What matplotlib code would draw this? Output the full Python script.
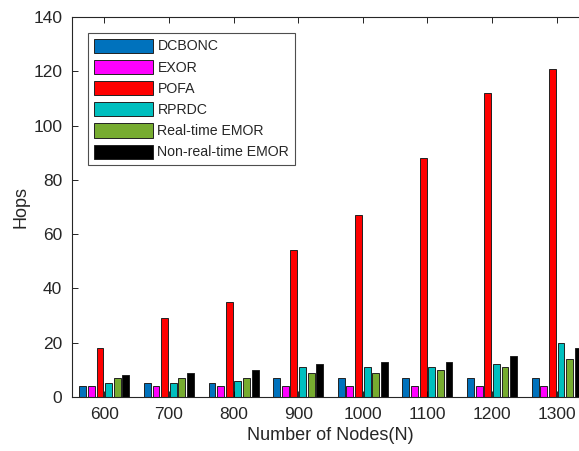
import numpy as np
import matplotlib
matplotlib.use("Agg")
import matplotlib.pyplot as plt

plt.rcParams['font.family'] = ['Liberation Sans', 'DejaVu Sans']
plt.rcParams['text.color'] = '#262626'
plt.rcParams['axes.labelcolor'] = '#262626'
plt.rcParams['xtick.labelcolor'] = '#262626'
plt.rcParams['ytick.labelcolor'] = '#262626'

# hop counts per routing scheme vs network size
nodes = ['600', '700', '800', '900', '1000', '1100', '1200', '1300']
dcbonc = [4, 5, 5, 7, 7, 7, 7, 7]
exor = [4, 4, 4, 4, 4, 4, 4, 4]
pofa = [18, 29, 35, 54, 67, 88, 112, 121]
rprdc = [5, 5, 6, 11, 11, 11, 12, 20]
rt_emor = [7, 7, 7, 9, 9, 10, 11, 14]
nrt_emor = [8, 9, 10, 12, 13, 13, 15, 18]

series = [dcbonc, exor, pofa, rprdc, rt_emor, nrt_emor]
names = ['DCBONC', 'EXOR', 'POFA', 'RPRDC', 'Real-time EMOR', 'Non-real-time EMOR']
colors = ['#0072BD', '#FF00FF', '#FF0000', '#00BFBF', '#77AC30', '#000000']

fig = plt.figure(figsize=(5.79, 4.51), dpi=100)
ax = fig.add_axes([72 / 579, 54 / 451, 517 / 579, 380 / 451])

x = np.arange(1, len(nodes) + 1)
n = len(series)
step = 0.8 / n
w = step * 0.8
for i, (vals, name, c) in enumerate(zip(series, names, colors)):
    off = (i - (n - 1) / 2) * step
    ax.bar(x + off, vals, width=w, color=c, edgecolor='#222222', linewidth=0.7, label=name)

ax.set_xlim(0.5, 8.5)
ax.set_ylim(0, 140)
ax.set_xticks(x)
ax.set_xticklabels(nodes)
ax.set_yticks(range(0, 141, 20))
ax.tick_params(direction='in', top=True, right=True, labelsize=12.5, length=4, width=0.6, pad=7)
for s in ax.spines.values():
    s.set_linewidth(0.8)
    s.set_color('#262626')

ax.set_xlabel('Number of Nodes(N)', fontsize=13, labelpad=4)
ax.set_ylabel('Hops', fontsize=13, labelpad=3)

leg = ax.legend(loc='upper left', bbox_to_anchor=(0.031, 0.958), fontsize=10.2,
                handlelength=4.2, handleheight=1.15, handletextpad=0.3,
                labelspacing=0.45, borderpad=0.4, borderaxespad=0, fancybox=False)
leg.get_frame().set_edgecolor('#222222')
leg.get_frame().set_linewidth(0.8)

fig.savefig('out.png', dpi=100)
